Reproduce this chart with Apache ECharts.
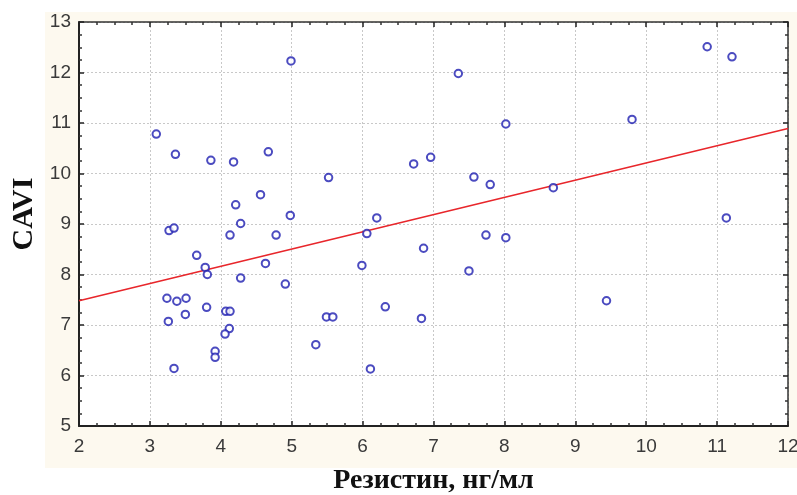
<!DOCTYPE html>
<html>
<head>
<meta charset="utf-8">
<script src="https://cdn.jsdelivr.net/npm/echarts@6/dist/echarts.min.js"></script>
<style>
  html, body { margin: 0; padding: 0; background: #ffffff; }
  #chart { width: 797px; height: 495px; }
</style>
</head>
<body>
<div id="chart"></div>
<script>
// Resistin (ng/ml) vs CAVI, individual observations
const resistin = [
  3.09, 3.36, 3.86, 4.18, 4.67, 4.99, 5.52, 4.56, 4.21, 4.28, 4.98, 6.20, 6.06, 3.27, 3.34, 4.13, 4.78,
  7.35, 10.86, 11.21, 8.02, 9.80, 6.72, 6.96, 7.57, 7.80, 8.69, 11.13, 7.74, 8.02, 6.86,
  3.66, 3.78, 3.81, 4.28, 4.63, 4.91, 5.99, 3.24, 3.38, 3.51, 3.50, 3.26, 3.80, 4.07, 4.13, 4.12,
  4.06, 3.92, 3.92, 3.34, 5.34, 5.49, 5.58, 6.11, 6.32,
  7.50, 6.83, 9.44
];
const cavi = [
  10.78, 10.38, 10.26, 10.23, 10.43, 12.23, 9.92, 9.58, 9.38, 9.01, 9.17, 9.12, 8.81, 8.87, 8.92, 8.78, 8.78,
  11.98, 12.51, 12.31, 10.98, 11.07, 10.19, 10.32, 9.93, 9.78, 9.72, 9.12, 8.78, 8.73, 8.52,
  8.38, 8.14, 8.00, 7.93, 8.22, 7.81, 8.18, 7.53, 7.47, 7.53, 7.21, 7.07, 7.35, 7.27, 7.27, 6.93,
  6.82, 6.48, 6.36, 6.14, 6.61, 7.16, 7.16, 6.13, 7.36,
  8.07, 7.13, 7.48
];

// Linear fit drawn across the x range
const fitX = [2, 12];
const fitY = [7.48, 10.89];

// Axis ranges and ticks
const xTicks = [2, 3, 4, 5, 6, 7, 8, 9, 10, 11, 12];
const yTicks = [5, 6, 7, 8, 9, 10, 11, 12, 13];

const xTitle = 'Резистин, нг/мл';
const yTitle = 'CAVI';

const points = resistin.map((x, i) => [x, cavi[i]]);
const fitLine = fitX.map((x, i) => [x, fitY[i]]);

const tickFont = {
  fontFamily: '"Liberation Sans Narrow", "Liberation Sans", Arial, sans-serif',
  fontSize: 19,
  color: '#3a3a3a'
};
const serifBold = '"Liberation Serif", "Times New Roman", serif';
const xTitleFont = {
  fontFamily: serifBold,
  fontWeight: 'bold',
  fontSize: 28,
  color: '#111111'
};

const gridLine = { show: true, lineStyle: { color: '#c8c8c8', type: [2, 2], width: 1 } };

const chart = echarts.init(document.getElementById('chart'), null, { renderer: 'canvas' });
chart.setOption({
  animation: false,
  backgroundColor: '#ffffff',
  graphic: [{
    type: 'rect',
    z: -100,
    shape: { x: 45, y: 12, width: 760, height: 456 },
    style: { fill: '#fdf9ef' },
    silent: true
  }, {
    // vertical axis title
    type: 'text',
    x: 24, y: 214,
    rotation: Math.PI / 2,
    style: {
      text: yTitle,
      fontFamily: serifBold,
      fontWeight: 'bold',
      fontSize: 30,
      fill: '#111111',
      align: 'center',
      verticalAlign: 'middle'
    },
    silent: true
  }],
  grid: {
    left: 79, right: 9, top: 22, bottom: 69,
    outerBoundsMode: 'none',
    containLabel: false,
    show: true, backgroundColor: '#ffffff', borderWidth: 0
  },
  xAxis: [{
    type: 'value',
    min: xTicks[0], max: xTicks[xTicks.length - 1], interval: 1,
    position: 'bottom',
    name: xTitle, nameLocation: 'middle', nameGap: 41,
    nameTextStyle: xTitleFont,
    axisLine: { show: true, onZero: false, lineStyle: { color: '#222', width: 2 } },
    axisTick: { show: true, inside: true, length: 5, lineStyle: { color: '#222', width: 1.5 } },
    minorTick: { show: true, splitNumber: 4, length: 3, lineStyle: { color: '#333', width: 1.5 } },
    axisLabel: Object.assign({ margin: 11 }, tickFont),
    splitLine: gridLine
  }, {
    type: 'value',
    min: xTicks[0], max: xTicks[xTicks.length - 1], interval: 1,
    position: 'top',
    axisLine: { show: true, onZero: false, lineStyle: { color: '#333', width: 1.5 } },
    axisTick: { show: true, inside: true, length: 5, lineStyle: { color: '#222', width: 1.5 } },
    minorTick: { show: true, splitNumber: 4, length: 3, lineStyle: { color: '#333', width: 1.5 } },
    axisLabel: { show: false },
    splitLine: { show: false }
  }],
  yAxis: [{
    type: 'value',
    min: yTicks[0], max: yTicks[yTicks.length - 1], interval: 1,
    position: 'left',
    axisLine: { show: true, onZero: false, lineStyle: { color: '#222', width: 2 } },
    axisTick: { show: true, inside: true, length: 5, lineStyle: { color: '#222', width: 1.5 } },
    minorTick: { show: true, splitNumber: 4, length: 3, lineStyle: { color: '#333', width: 1.5 } },
    axisLabel: Object.assign({ margin: 8 }, tickFont),
    splitLine: gridLine
  }, {
    type: 'value',
    min: yTicks[0], max: yTicks[yTicks.length - 1], interval: 1,
    position: 'right',
    axisLine: { show: true, onZero: false, lineStyle: { color: '#333', width: 1.5 } },
    axisTick: { show: true, inside: true, length: 5, lineStyle: { color: '#222', width: 1.5 } },
    minorTick: { show: true, splitNumber: 4, length: 3, lineStyle: { color: '#333', width: 1.5 } },
    axisLabel: { show: false },
    splitLine: { show: false }
  }],
  series: [{
    type: 'line',
    data: fitLine,
    xAxisIndex: 0, yAxisIndex: 0,
    symbol: 'none',
    lineStyle: { color: '#e8262b', width: 1.6 },
    z: 2
  }, {
    type: 'scatter',
    data: points,
    xAxisIndex: 0, yAxisIndex: 0,
    symbol: 'emptyCircle',
    symbolSize: 7.5,
    itemStyle: { color: '#1e1eb0', borderColor: '#1e1eb0', borderWidth: 1.9 },
    z: 3
  }]
});
</script>
</body>
</html>
